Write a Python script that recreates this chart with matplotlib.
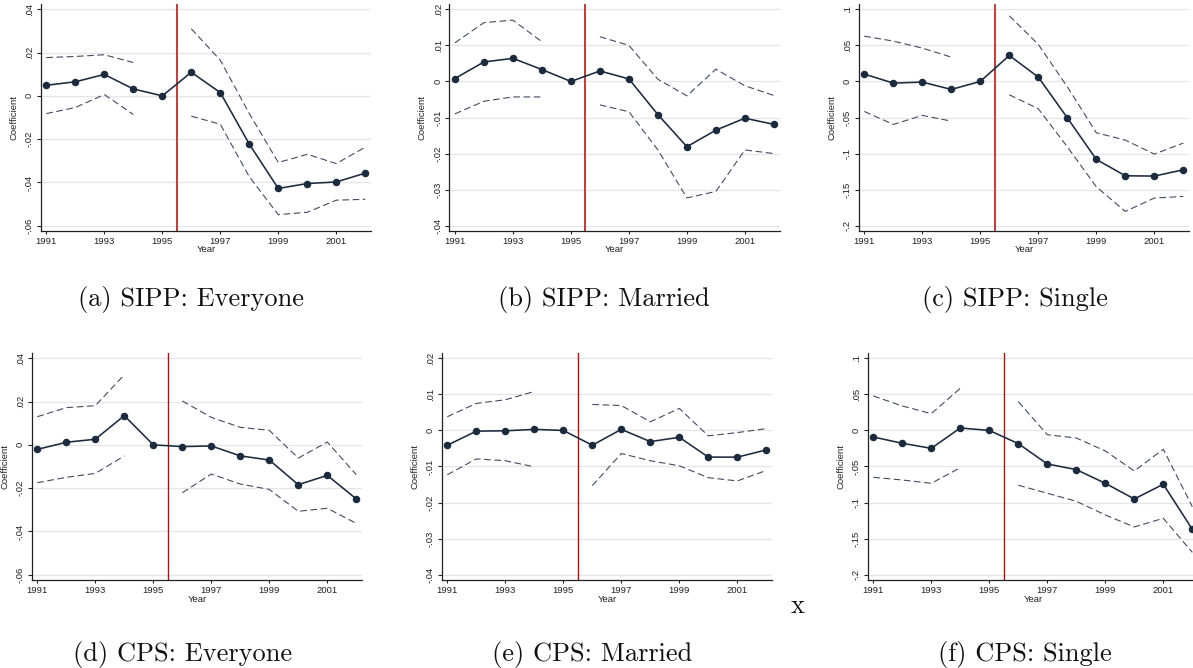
import numpy as np
import matplotlib
matplotlib.use("Agg")
import matplotlib.pyplot as plt
from matplotlib.ticker import FixedLocator, FuncFormatter

nan = np.nan
years = list(range(1991, 2003))
xticks = [1991, 1993, 1995, 1997, 1999, 2001]

# --- SIPP ---
sipp_all_coef = [0.0049, 0.0065, 0.0099, 0.0032, 0.0, 0.0109, 0.0015, -0.0223, -0.0428, -0.0405, -0.0398, -0.0357]
sipp_all_hi = [0.0177, 0.0182, 0.0190, 0.0154, nan, 0.0310, 0.0165, -0.0082, -0.0308, -0.0270, -0.0313, -0.0237]
sipp_all_lo = [-0.0082, -0.0054, 0.0006, -0.0086, nan, -0.0094, -0.0131, -0.0374, -0.0549, -0.0538, -0.0482, -0.0478]

sipp_mar_coef = [0.0008, 0.0054, 0.0064, 0.0033, 0.0, 0.0029, 0.0007, -0.0092, -0.0181, -0.0135, -0.0102, -0.0119]
sipp_mar_hi = [0.0107, 0.0163, 0.0170, 0.0110, nan, 0.0124, 0.0100, 0.0006, -0.0040, 0.0034, -0.0012, -0.0039]
sipp_mar_lo = [-0.0090, -0.0055, -0.0043, -0.0043, nan, -0.0065, -0.0084, -0.0190, -0.0323, -0.0305, -0.0190, -0.0200]

sipp_sgl_coef = [0.0102, -0.0023, -0.0009, -0.0111, 0.0, 0.0360, 0.0060, -0.0504, -0.1081, -0.1308, -0.1312, -0.1225]
sipp_sgl_hi = [0.0628, 0.0559, 0.0462, 0.0337, nan, 0.0910, 0.0513, -0.0074, -0.0712, -0.0813, -0.1007, -0.0855]
sipp_sgl_lo = [-0.0416, -0.0596, -0.0471, -0.0550, nan, -0.0185, -0.0379, -0.0906, -0.1460, -0.1802, -0.1617, -0.1594]

# --- CPS ---
cps_all_coef = [-0.0021, 0.0012, 0.0026, 0.0135, 0.0, -0.0008, -0.0005, -0.0051, -0.0070, -0.0184, -0.0141, -0.0250]
cps_all_hi = [0.0130, 0.0172, 0.0181, 0.0324, nan, 0.0203, 0.0127, 0.0081, 0.0067, -0.0061, 0.0013, -0.0138]
cps_all_lo = [-0.0175, -0.0150, -0.0132, -0.0051, nan, -0.0221, -0.0135, -0.0181, -0.0206, -0.0307, -0.0293, -0.0363]

cps_mar_coef = [-0.0041, -0.0002, -0.0001, 0.0003, 0.0, -0.0041, 0.0003, -0.0031, -0.0019, -0.0074, -0.0074, -0.0054]
cps_mar_hi = [0.0038, 0.0075, 0.0085, 0.0108, nan, 0.0072, 0.0069, 0.0024, 0.0061, -0.0015, -0.0006, 0.0005]
cps_mar_lo = [-0.0123, -0.0079, -0.0084, -0.0101, nan, -0.0153, -0.0064, -0.0084, -0.0098, -0.0131, -0.0140, -0.0111]

cps_sgl_coef = [-0.0091, -0.0178, -0.0248, 0.0034, 0.0, -0.0183, -0.0465, -0.0543, -0.0733, -0.0950, -0.0746, -0.1370]
cps_sgl_hi = [0.0478, 0.0339, 0.0233, 0.0584, nan, 0.0399, -0.0059, -0.0105, -0.0285, -0.0562, -0.0261, -0.1057]
cps_sgl_lo = [-0.0650, -0.0687, -0.0733, -0.0516, nan, -0.0760, -0.0871, -0.0982, -0.1172, -0.1338, -0.1218, -0.1690]

yticks_all = [-0.06, -0.04, -0.02, 0, 0.02, 0.04]
yticks_mar = [-0.04, -0.03, -0.02, -0.01, 0, 0.01, 0.02]
yticks_sgl = [-0.2, -0.15, -0.1, -0.05, 0, 0.05, 0.1]

captions = ["(a) SIPP: Everyone", "(b) SIPP: Married", "(c) SIPP: Single",
            "(d) CPS: Everyone", "(e) CPS: Married", "(f) CPS: Single"]

W, H = 1193, 668
fig = plt.figure(figsize=(W / 100, H / 100), dpi=100)

NAVY = "#1c2a3e"
DASH = "#3f4d60"
TICKFONT = "Liberation Sans"
TICKSIZE = 6.8


def stata_fmt(v, pos):
    if abs(v) < 1e-12:
        return "0"
    s = f"{v:g}"
    return s.replace("0.", ".")


def panel(left_px, top_px, bot_px, tick_top_px, tick_bot_px, coef, hi, lo, yt, red_lw, red_col):
    w_px = 330.6
    ax = fig.add_axes([left_px / W, (H - bot_px) / H, w_px / W, (bot_px - top_px) / H])
    # y limits from where the outer ticks sit inside the plot region
    span = yt[-1] - yt[0]
    per_px = span / (tick_bot_px - tick_top_px)
    ax.set_ylim(yt[0] - (bot_px - tick_bot_px) * per_px, yt[-1] + (tick_top_px - top_px) * per_px)
    ax.set_xlim(1991 - 5.6 / 29, 2002 + 6.0 / 29)

    ax.yaxis.set_major_locator(FixedLocator(yt))
    ax.yaxis.set_major_formatter(FuncFormatter(stata_fmt))
    ax.xaxis.set_major_locator(FixedLocator(xticks))
    ax.grid(axis="y", color="#e6e6e6", lw=1.0, zorder=0)
    ax.set_axisbelow(True)

    for s in ("top", "right"):
        ax.spines[s].set_visible(False)
    for s in ("left", "bottom"):
        ax.spines[s].set_color("#222222")
        ax.spines[s].set_linewidth(0.9)

    ax.tick_params(axis="y", length=3, width=0.8, pad=1.8, labelsize=TICKSIZE,
                   labelrotation=90, colors="#222222")
    ax.tick_params(axis="x", length=2.5, width=0.8, pad=1.8, labelsize=TICKSIZE, colors="#222222")
    for lab in ax.get_yticklabels():
        lab.set_va("center")
    for lab in ax.get_xticklabels() + ax.get_yticklabels():
        lab.set_fontfamily(TICKFONT)

    ax.axvline(1995.5, color=red_col, lw=red_lw, zorder=2)
    l1, = ax.plot(years, hi, color=DASH, lw=0.8, zorder=3)
    l2, = ax.plot(years, lo, color=DASH, lw=0.8, zorder=3)
    for ln in (l1, l2):
        ln.set_dashes((6, 3.2))
    ax.plot(years, coef, color=NAVY, lw=1.15, marker="o", ms=4.4, zorder=4)

    ax.set_ylabel("Coefficient", fontsize=TICKSIZE, fontfamily=TICKFONT, color="#222222")
    ax.yaxis.set_label_coords(-22.5 / w_px, 0.5)
    ax.set_xlabel("Year", fontsize=TICKSIZE, fontfamily=TICKFONT, color="#222222", va="center")
    ax.xaxis.set_label_coords(0.5, -19.0 / (bot_px - top_px))
    return ax


top_lefts = [40.7, 449.3, 858.7]
bot_lefts = [31.7, 441.7, 867.7]
series = [
    (sipp_all_coef, sipp_all_hi, sipp_all_lo, yticks_all),
    (sipp_mar_coef, sipp_mar_hi, sipp_mar_lo, yticks_mar),
    (sipp_sgl_coef, sipp_sgl_hi, sipp_sgl_lo, yticks_sgl),
    (cps_all_coef, cps_all_hi, cps_all_lo, yticks_all),
    (cps_mar_coef, cps_mar_hi, cps_mar_lo, yticks_mar),
    (cps_sgl_coef, cps_sgl_hi, cps_sgl_lo, yticks_sgl),
]

for i in range(3):
    c, h, l, yt = series[i]
    panel(top_lefts[i], 3.5, 231, 9.3, 225.7, c, h, l, yt, 1.5, "#b44545")
for i in range(3):
    c, h, l, yt = series[i + 3]
    panel(bot_lefts[i], 353.3, 580, 358.3, 574.7, c, h, l, yt, 1.0, "#a01515")

# sub-figure captions
cap_x = [191, 604, 1015, 183, 592, 1025]
cap_base = [306, 306, 306, 661, 661, 661]
for txt, cx, cb in zip(captions, cap_x, cap_base):
    fig.text(cx / W, (H - cb) / H, txt, ha="center", va="baseline",
             fontfamily="cmr10", fontsize=19, color="#111111")
fig.text(798 / W, (H - 613) / H, "x", ha="center", va="baseline",
         fontfamily="cmr10", fontsize=19, color="#111111")

fig.savefig("out.png", dpi=100, facecolor="white")
